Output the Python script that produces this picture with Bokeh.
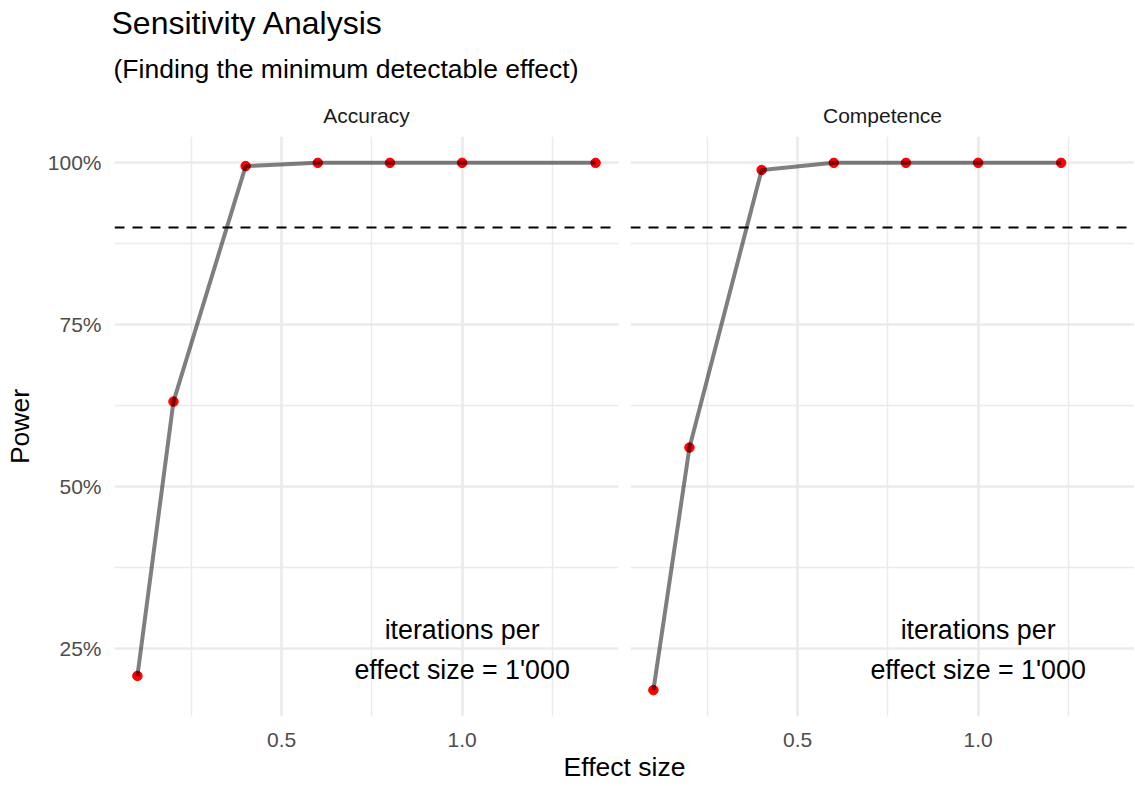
from bokeh.plotting import figure
from bokeh.models import Range1d, FixedTicker, NumeralTickFormatter, Title, Span
from bokeh.layouts import column, row
from bokeh.embed import file_html
from bokeh.resources import INLINE
from bokeh.core.properties import value

FONT = "Liberation Sans"

# ---- data ----
panel_names = ["Accuracy", "Competence"]
effect_accuracy = [0.1, 0.2, 0.4, 0.6, 0.8, 1.0, 1.37]
power_accuracy = [0.207, 0.631, 0.995, 1.0, 1.0, 1.0, 1.0]
effect_competence = [0.1, 0.2, 0.4, 0.6, 0.8, 1.0, 1.23]
power_competence = [0.185, 0.56, 0.989, 1.0, 1.0, 1.0, 1.0]
target_power = 0.9
x_major = [0.5, 1.0]
x_minor = [0.25, 0.75, 1.25]
x_tick_labels = ["0.5", "1.0"]
y_major = [0.25, 0.5, 0.75, 1.0]
y_minor = [0.375, 0.625, 0.875]
note_x = 1.0
note_y = 0.25
note_text = "iterations per\neffect size = 1'000"
title_text = "Sensitivity Analysis"
subtitle_text = "(Finding the minimum detectable effect)"
x_title = "Effect size"
y_title = "Power"

# ranges with 5% expansion (ggplot style)
all_x = effect_accuracy + effect_competence
all_y = power_accuracy + power_competence
xpad = (max(all_x) - min(all_x)) * 0.05
ypad = (max(all_y) - min(all_y)) * 0.05
x_range = Range1d(min(all_x) - xpad, max(all_x) + xpad)
y_range = Range1d(min(all_y) - ypad, max(all_y) + ypad)

GRID = "#EBEBEB"
FRAME_W = 504
FRAME_H = 580


def style_title(t, size, color, standoff, align, offset=0):
    t.align = align
    t.offset = offset
    t.text_font = FONT
    t.text_font_size = size
    t.text_font_style = "normal"
    t.text_color = color
    t.standoff = standoff


def make_panel(name, xs, ys, first):
    p = figure(frame_width=FRAME_W, frame_height=FRAME_H,
               x_range=x_range, y_range=y_range,
               output_backend="svg", toolbar_location=None,
               min_border_left=114 if first else 0,
               min_border_right=12 if first else 0,
               min_border_top=0, min_border_bottom=0,
               background_fill_color="white", border_fill_color="white")
    p.outline_line_color = None
    # main title outermost; extra "above" items: first added sits next to the frame
    p.title.text = title_text if first else " "
    style_title(p.title, "32px", "black", 5, "left", -3)
    strip = Title(text=name)
    style_title(strip, "21px", "#1A1A1A", 20, "center")
    p.add_layout(strip, "above")
    sub = Title(text=subtitle_text if first else " ")
    style_title(sub, "26.5px", "black", 16, "left", -1)
    p.add_layout(sub, "above")

    # grids
    p.xgrid.ticker = FixedTicker(ticks=x_major, minor_ticks=x_minor)
    p.ygrid.ticker = FixedTicker(ticks=y_major, minor_ticks=y_minor)
    for g in (p.xgrid, p.ygrid):
        g.grid_line_color = GRID
        g.grid_line_width = 2.7
        g.minor_grid_line_color = GRID
        g.minor_grid_line_width = 1.4

    # axes
    xa = p.xaxis[0]
    xa.ticker = FixedTicker(ticks=x_major, minor_ticks=x_minor)
    xa.major_label_overrides = {t: l for t, l in zip(x_major, x_tick_labels)}
    ya = p.yaxis[0]
    ya.ticker = FixedTicker(ticks=y_major, minor_ticks=y_minor)
    ya.formatter = NumeralTickFormatter(format="0%")
    for ax in (xa, ya):
        ax.axis_line_color = None
        ax.major_tick_line_color = None
        ax.minor_tick_line_color = None
        ax.major_label_text_font = FONT
        ax.major_label_text_font_size = "21px"
        ax.major_label_text_color = "#4D4D4D"
        ax.axis_label_text_font = FONT
        ax.axis_label_text_font_size = "26.5px"
        ax.axis_label_text_font_style = "normal"
        ax.axis_label_text_color = "black"
    xa.major_label_standoff = 10
    ya.major_label_standoff = 7
    if first:
        ya.axis_label = y_title
        ya.axis_label_standoff = 10
    else:
        ya.visible = False

    p.scatter(xs, ys, size=9.5, fill_color="#FF0000", line_color="#FF0000")
    p.line(xs, ys, line_color="black", line_alpha=0.5, line_width=4)
    p.add_layout(Span(location=target_power, dimension="width",
                      line_color="black", line_width=2, line_dash="10 8"))
    p.text(x=[note_x], y=[note_y], text=[note_text],
           text_font=value(FONT), text_font_size="26.8px",
           text_align="center", text_baseline="middle",
           text_line_height=1.32, text_color="black", y_offset=2)
    return p


left = make_panel(panel_names[0], effect_accuracy, power_accuracy, True)
right = make_panel(panel_names[1], effect_competence, power_competence, False)

bottom = figure(width=1134, height=32, output_backend="svg", toolbar_location=None,
                x_range=Range1d(0, 1), y_range=Range1d(0, 1),
                min_border_left=114, min_border_right=0,
                min_border_top=30, min_border_bottom=0)
bottom.axis.visible = False
bottom.grid.visible = False
bottom.outline_line_color = None
bottom.title.text = x_title
style_title(bottom.title, "26.5px", "black", 0, "center")

layout = column(row(left, right), bottom)
open("out.html", "w").write(file_html(layout, INLINE))
